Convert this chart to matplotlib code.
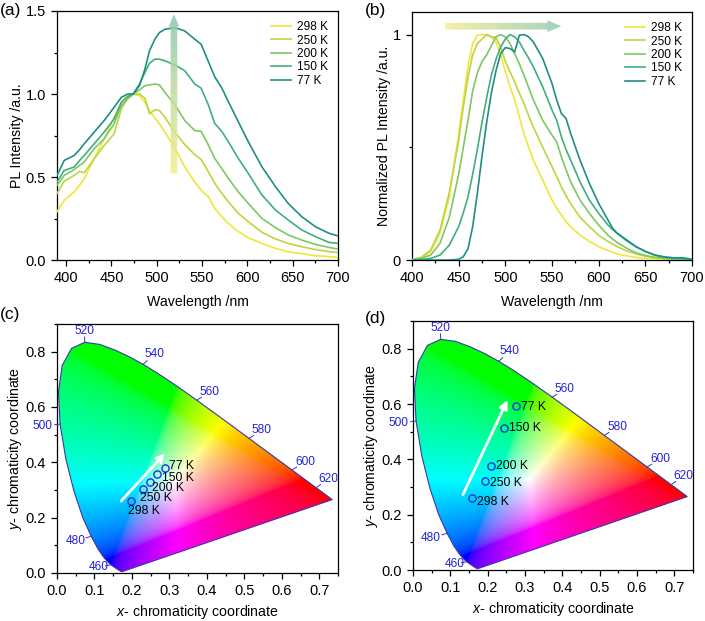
import numpy as np
import matplotlib
matplotlib.use('Agg')
import matplotlib.pyplot as plt
from matplotlib.patches import Polygon, FancyArrow
from matplotlib.ticker import MultipleLocator, FormatStrFormatter

plt.rcParams['font.family'] = ['Liberation Sans', 'DejaVu Sans']
plt.rcParams['mathtext.fontset'] = 'custom'
plt.rcParams['mathtext.it'] = 'Liberation Sans:italic'
plt.rcParams['mathtext.rm'] = 'Liberation Sans'

# ---------------- data ----------------
temps = ['298 K', '250 K', '200 K', '150 K', '77 K']
line_colors = ['#F2E53A', '#BDD53F', '#7DC862', '#3FB07C', '#1F8E85']

# (a) PL intensity
wl_a = [390, 398, 409, 415, 420, 431, 442, 453, 461, 468, 474, 481, 487, 492, 498, 503,
        509, 520, 531, 542, 549, 557, 564, 572, 579, 590, 601, 616, 631, 645, 660, 675, 690, 700]
pl_298 = [0.29, 0.36, 0.41, 0.45, 0.49, 0.61, 0.73, 0.86, 0.95, 0.99, 1.00, 0.99, 0.95, 0.90, 0.855, 0.82,
          0.77, 0.675, 0.56, 0.47, 0.42, 0.381, 0.311, 0.26, 0.221, 0.171, 0.134, 0.10, 0.07, 0.05, 0.038, 0.026, 0.02, 0.016]
pl_250 = [0.40, 0.475, 0.51, 0.535, 0.525, 0.61, 0.69, 0.76, 0.91, 0.975, 1.00, 1.00, 0.975, 0.88, 0.905, 0.90,
          0.86, 0.77, 0.695, 0.635, 0.605, 0.532, 0.462, 0.40, 0.351, 0.281, 0.231, 0.167, 0.127, 0.10, 0.08, 0.063, 0.05, 0.045]
pl_200 = [0.45, 0.51, 0.545, 0.57, 0.59, 0.67, 0.73, 0.82, 0.93, 0.97, 1.00, 1.025, 1.05, 1.055, 1.06, 1.055,
          1.01, 0.935, 0.84, 0.78, 0.775, 0.693, 0.612, 0.55, 0.492, 0.411, 0.341, 0.251, 0.195, 0.151, 0.12, 0.094, 0.076, 0.066]
pl_150 = [0.47, 0.54, 0.56, 0.60, 0.63, 0.70, 0.77, 0.85, 0.95, 0.985, 1.00, 1.06, 1.13, 1.185, 1.21, 1.21,
          1.20, 1.175, 1.14, 1.06, 1.035, 0.934, 0.823, 0.773, 0.713, 0.612, 0.522, 0.392, 0.301, 0.241, 0.181, 0.141, 0.106, 0.10]
pl_77 = [0.51, 0.60, 0.63, 0.665, 0.70, 0.77, 0.84, 0.92, 0.98, 1.00, 1.00, 1.05, 1.15, 1.26, 1.33, 1.37,
         1.39, 1.40, 1.38, 1.33, 1.30, 1.195, 1.104, 1.034, 0.954, 0.833, 0.713, 0.562, 0.442, 0.341, 0.261, 0.201, 0.161, 0.145]

# (b) normalized PL intensity
wl_b = [400, 410, 420, 430, 440, 450, 455, 460, 465, 470, 475, 480, 485, 490, 495, 500, 505, 510, 515, 520, 525,
        530, 540, 550, 555, 560, 565, 570, 580, 590, 600, 610, 615, 620, 630, 640, 650, 660, 670, 680, 690, 700]
npl_298 = [0.0, 0.007, 0.037, 0.12, 0.28, 0.56, 0.71, 0.86, 0.96, 0.997, 1.0, 0.997, 0.99, 0.967, 0.91, 0.835, 0.77,
           0.71, 0.635, 0.56, 0.50, 0.443, 0.355, 0.266, 0.23, 0.20, 0.17, 0.148, 0.11, 0.083, 0.059, 0.042, 0.034,
           0.027, 0.018, 0.012, 0.007, 0.004, 0.002, 0.0, 0.0, 0.0]
npl_250 = [0.002, 0.012, 0.044, 0.133, 0.30, 0.53, 0.68, 0.81, 0.91, 0.96, 0.98, 1.0, 0.99, 0.987, 0.945, 0.88, 0.835,
           0.79, 0.74, 0.694, 0.64, 0.59, 0.50, 0.414, 0.37, 0.325, 0.285, 0.25, 0.19, 0.148, 0.11, 0.082, 0.07,
           0.059, 0.04, 0.027, 0.017, 0.01, 0.006, 0.003, 0.002, 0.0]
npl_200 = [0.001, 0.007, 0.022, 0.074, 0.19, 0.38, 0.50, 0.62, 0.75, 0.83, 0.88, 0.91, 0.95, 0.99, 1.0, 0.99, 0.96,
           0.915, 0.87, 0.82, 0.765, 0.71, 0.62, 0.554, 0.524, 0.458, 0.40, 0.347, 0.266, 0.207, 0.155, 0.11, 0.093,
           0.077, 0.052, 0.032, 0.02, 0.012, 0.007, 0.003, 0.002, 0.0]
npl_150 = [0.0, 0.002, 0.007, 0.022, 0.066, 0.148, 0.21, 0.28, 0.38, 0.49, 0.61, 0.72, 0.82, 0.89, 0.945, 0.98, 1.0,
           0.99, 0.967, 0.93, 0.895, 0.857, 0.768, 0.665, 0.62, 0.547, 0.49, 0.443, 0.347, 0.266, 0.207, 0.155, 0.135,
           0.118, 0.085, 0.059, 0.038, 0.022, 0.013, 0.007, 0.005, 0.003]
npl_77 = [0.0, 0.0, 0.0, 0.0, 0.0, 0.003, 0.015, 0.05, 0.148, 0.295, 0.46, 0.61, 0.74, 0.84, 0.915, 0.942, 0.938,
          0.923, 0.997, 1.0, 0.99, 0.967, 0.894, 0.783, 0.71, 0.65, 0.628, 0.561, 0.443, 0.34, 0.251, 0.177, 0.14,
          0.118, 0.089, 0.059, 0.038, 0.022, 0.014, 0.01, 0.01, 0.003]

# CIE 1931 spectral locus (380-700 nm, 5 nm step)
cie_x = [0.1741, 0.1740, 0.1738, 0.1736, 0.1733, 0.1730, 0.1726, 0.1721, 0.1714, 0.1703, 0.1689, 0.1669, 0.1644,
         0.1611, 0.1566, 0.1510, 0.1440, 0.1355, 0.1241, 0.1096, 0.0913, 0.0687, 0.0454, 0.0235, 0.0082, 0.0039,
         0.0139, 0.0389, 0.0743, 0.1142, 0.1547, 0.1929, 0.2296, 0.2658, 0.3016, 0.3373, 0.3731, 0.4087, 0.4441,
         0.4788, 0.5125, 0.5448, 0.5752, 0.6029, 0.6270, 0.6482, 0.6658, 0.6801, 0.6915, 0.7006, 0.7079, 0.7140,
         0.7190, 0.7230, 0.7260, 0.7283, 0.7300, 0.7311, 0.7320, 0.7327, 0.7334, 0.7340, 0.7344, 0.7346, 0.7347]
cie_y = [0.0050, 0.0050, 0.0049, 0.0049, 0.0048, 0.0048, 0.0048, 0.0048, 0.0051, 0.0058, 0.0069, 0.0086, 0.0109,
         0.0138, 0.0177, 0.0227, 0.0297, 0.0399, 0.0578, 0.0868, 0.1327, 0.2007, 0.2950, 0.4127, 0.5384, 0.6548,
         0.7502, 0.8120, 0.8338, 0.8262, 0.8059, 0.7816, 0.7543, 0.7243, 0.6923, 0.6589, 0.6245, 0.5896, 0.5547,
         0.5202, 0.4866, 0.4544, 0.4242, 0.3965, 0.3725, 0.3514, 0.3340, 0.3197, 0.3083, 0.2993, 0.2920, 0.2859,
         0.2809, 0.2770, 0.2740, 0.2717, 0.2700, 0.2689, 0.2680, 0.2673, 0.2666, 0.2660, 0.2656, 0.2654, 0.2653]
cie_wl = list(range(380, 705, 5))
locus_labels = [460, 480, 500, 520, 540, 560, 580, 600, 620]
# label offsets in points (layout)
locus_label_offsets = [(-8.5, -1.5), (-11.5, -3.5), (-12.5, -1.7), (-0.5, 8.5), (8, 7.2), (9, 5.7),
                       (9.3, 5.8), (9.4, 5.5), (9, 6.3)]

# CIE coordinates
cie_c_x = [0.198, 0.229, 0.247, 0.267, 0.288]
cie_c_y = [0.262, 0.303, 0.330, 0.359, 0.380]
cie_d_x = [0.159, 0.194, 0.208, 0.245, 0.277]
cie_d_y = [0.262, 0.321, 0.377, 0.514, 0.592]
lab_off_c = [(-2.2, -7.5), (-2.2, -6.0), (1.9, -4.3), (3.6, -2.9), (2.9, 1.4)]
lab_off_d = [(3.1, -3.2), (3.6, -1.2), (4.1, 0.0), (3.6, 0.0), (3.6, -0.7)]

# ---------------- figure ----------------
fig = plt.figure(figsize=(7.05, 6.21), dpi=100)
W, H = 705.0, 621.0


def add_ax(l, r, t, b):
    return fig.add_axes([l / W, 1 - b / H, (r - l) / W, (b - t) / H])


ax_a = add_ax(57, 338, 11, 260)
ax_b = add_ax(412, 692, 12, 260)
ax_c = add_ax(57, 338, 324, 573)
ax_d = add_ax(413, 693, 321, 570)

TICKFS = 10.5
LABFS = 10.2


def style(ax):
    for s in ax.spines.values():
        s.set_linewidth(0.9)
    ax.tick_params(which='both', direction='out', top=False, right=False, labelsize=TICKFS, width=0.9)
    ax.tick_params(which='major', length=4.5)
    ax.tick_params(which='minor', length=2.5)


def gradient_arrow(ax, x0, y0, x1, y1, width, head_width, head_length, c0, c1, vertical):
    arr = FancyArrow(x0, y0, x1 - x0, y1 - y0, width=width, head_width=head_width,
                     head_length=head_length, length_includes_head=True,
                     facecolor='none', edgecolor='none', transform=ax.transData)
    ax.add_patch(arr)
    g = np.linspace(0, 1, 256)[:, None]
    cols = (1 - g) * np.array(c0) + g * np.array(c1)
    if vertical:
        img = cols[:, None, :]
        ext = (x0 - head_width / 2, x0 + head_width / 2, y0, y1)
    else:
        img = cols[None, :, :]
        ext = (x0, x1, y0 - head_width / 2, y0 + head_width / 2)
    im = ax.imshow(img, extent=ext, origin='lower', aspect='auto', zorder=4, interpolation='bilinear')
    im.set_clip_path(arr)


LEG = dict(loc='upper right', frameon=False, fontsize=8.6, handlelength=1.75, handletextpad=0.45,
           labelspacing=0.12, borderaxespad=0.45)

# (a)
series_a = [pl_298, pl_250, pl_200, pl_150, pl_77]
for s, c, lab in zip(series_a, line_colors, temps):
    ax_a.plot(wl_a, s, color=c, lw=1.2, label=lab, zorder=3)
ax_a.set_xlim(390, 700)
ax_a.set_ylim(0, 1.5)
ax_a.xaxis.set_major_locator(MultipleLocator(50))
ax_a.xaxis.set_minor_locator(MultipleLocator(25))
ax_a.yaxis.set_major_locator(MultipleLocator(0.5))
ax_a.yaxis.set_minor_locator(MultipleLocator(0.25))
ax_a.yaxis.set_major_formatter(FormatStrFormatter('%.1f'))
style(ax_a)
ax_a.set_xlabel('Wavelength /nm', fontsize=LABFS, labelpad=7)
ax_a.set_ylabel('PL Intensity /a.u.', fontsize=LABFS, labelpad=1)
gradient_arrow(ax_a, 519, 0.52, 519, 1.48, 7.4, 12, 0.075,
               (0.97, 0.94, 0.55, 0.85), (0.55, 0.78, 0.70, 0.85), True)
ax_a.set_xlim(390, 700)
ax_a.set_ylim(0, 1.5)
ax_a.legend(**LEG)

# (b)
series_b = [npl_298, npl_250, npl_200, npl_150, npl_77]
for s, c, lab in zip(series_b, line_colors, temps):
    ax_b.plot(wl_b, s, color=c, lw=1.2, label=lab, zorder=3)
ax_b.set_xlim(400, 700)
ax_b.set_ylim(0, 1.1)
ax_b.xaxis.set_major_locator(MultipleLocator(50))
ax_b.xaxis.set_minor_locator(MultipleLocator(25))
ax_b.set_yticks([0, 1])
ax_b.set_yticklabels(['0', '1'])
ax_b.yaxis.set_minor_locator(MultipleLocator(0.5))
style(ax_b)
ax_b.set_xlabel('Wavelength /nm', fontsize=LABFS, labelpad=7)
ax_b.set_ylabel('Normalized PL Intensity /a.u.', fontsize=LABFS, labelpad=1)
gradient_arrow(ax_b, 435, 1.037, 560, 1.037, 0.03, 0.053, 15,
               (0.97, 0.94, 0.62, 0.9), (0.60, 0.80, 0.74, 0.9), False)
ax_b.set_xlim(400, 700)
ax_b.set_ylim(0, 1.1)
ax_b.legend(**LEG)


# CIE panels
def draw_cie(ax, px, py, offs, arrow_from, arrow_to, arrowstyle):
    ax.set_xlim(0, 0.75)
    ax.set_ylim(0, 0.9)
    N = 500
    xs = np.linspace(0, 0.75, N)
    ys = np.linspace(0, 0.9, N)
    X, Y = np.meshgrid(xs, ys)
    Yc = np.maximum(Y, 1e-4)
    XYZ = np.stack([X / Yc, np.ones_like(X), (1 - X - Y) / Yc], -1)
    M = np.array([[3.2406, -1.5372, -0.4986],
                  [-0.9689, 1.8758, 0.0415],
                  [0.0557, -0.2040, 1.0570]])
    rgb = XYZ @ M.T
    rgb = np.clip(rgb, 0, None)
    rgb = rgb / (rgb.max(axis=-1, keepdims=True) + 1e-9)
    rgb = np.where(rgb <= 0.0031308, 12.92 * rgb, 1.055 * np.power(rgb, 1 / 2.4) - 0.055)
    rgb = np.clip(rgb, 0, 1)
    im = ax.imshow(rgb, origin='lower', extent=(0, 0.75, 0, 0.9), aspect='auto',
                   interpolation='bilinear', zorder=1)
    poly = Polygon(np.column_stack([cie_x, cie_y]), closed=True, facecolor='none',
                   edgecolor='#3838a8', lw=0.8, zorder=2)
    ax.add_patch(poly)
    im.set_clip_path(poly)
    for wl, (ox, oy) in zip(locus_labels, locus_label_offsets):
        i = cie_wl.index(wl)
        lx, ly = cie_x[i], cie_y[i]
        nrm = np.hypot(ox, oy)
        ax.annotate('', xy=(lx, ly), xytext=(ox / nrm * 4.0, oy / nrm * 4.0), textcoords='offset points',
                    arrowprops=dict(arrowstyle='-', color='#3838a8', lw=0.7, shrinkA=0, shrinkB=0),
                    annotation_clip=False, zorder=3)
        ax.annotate(str(wl), xy=(lx, ly), xytext=(ox, oy), textcoords='offset points',
                    ha='center', va='center', fontsize=8.6, color='#2323d8', annotation_clip=False, zorder=3)
    ax.annotate('', xy=arrow_to, xytext=arrow_from,
                arrowprops=dict(arrowstyle=arrowstyle, color='white', lw=2.0,
                                shrinkA=0, shrinkB=0, mutation_scale=12), zorder=5)
    ax.plot(px, py, 'o', ms=5.2, mfc='none', mec='#2030e0', mew=1.0, zorder=6)
    for x, y, t, (ox, oy) in zip(px, py, temps, offs):
        ax.annotate(t, xy=(x, y), xytext=(ox, oy), textcoords='offset points', ha='left', va='center',
                    fontsize=8.8, color='black', zorder=6)
    ax.xaxis.set_major_locator(MultipleLocator(0.1))
    ax.xaxis.set_minor_locator(MultipleLocator(0.05))
    ax.yaxis.set_major_locator(MultipleLocator(0.2))
    ax.yaxis.set_minor_locator(MultipleLocator(0.1))
    ax.xaxis.set_major_formatter(FormatStrFormatter('%.1f'))
    ax.yaxis.set_major_formatter(FormatStrFormatter('%.1f'))
    style(ax)
    ax.set_xlabel(r'$\it{x}$- chromaticity coordinate', fontsize=LABFS, labelpad=3.5)
    ax.set_ylabel(r'$\it{y}$- chromaticity coordinate', fontsize=LABFS, labelpad=1)


draw_cie(ax_c, cie_c_x, cie_c_y, lab_off_c, (0.171, 0.26), (0.288, 0.432), '->')
draw_cie(ax_d, cie_d_x, cie_d_y, lab_off_d, (0.134, 0.273), (0.253, 0.614), '-|>')

fig.text(0 / W, 1 - 11 / H, '(a)', fontsize=12.5, ha='left', va='center')
fig.text(365 / W, 1 - 10 / H, '(b)', fontsize=12.5, ha='left', va='center')
fig.text(0 / W, 1 - 315 / H, '(c)', fontsize=12.5, ha='left', va='center')
fig.text(365 / W, 1 - 318 / H, '(d)', fontsize=12.5, ha='left', va='center')

fig.savefig('out.png', dpi=100)
